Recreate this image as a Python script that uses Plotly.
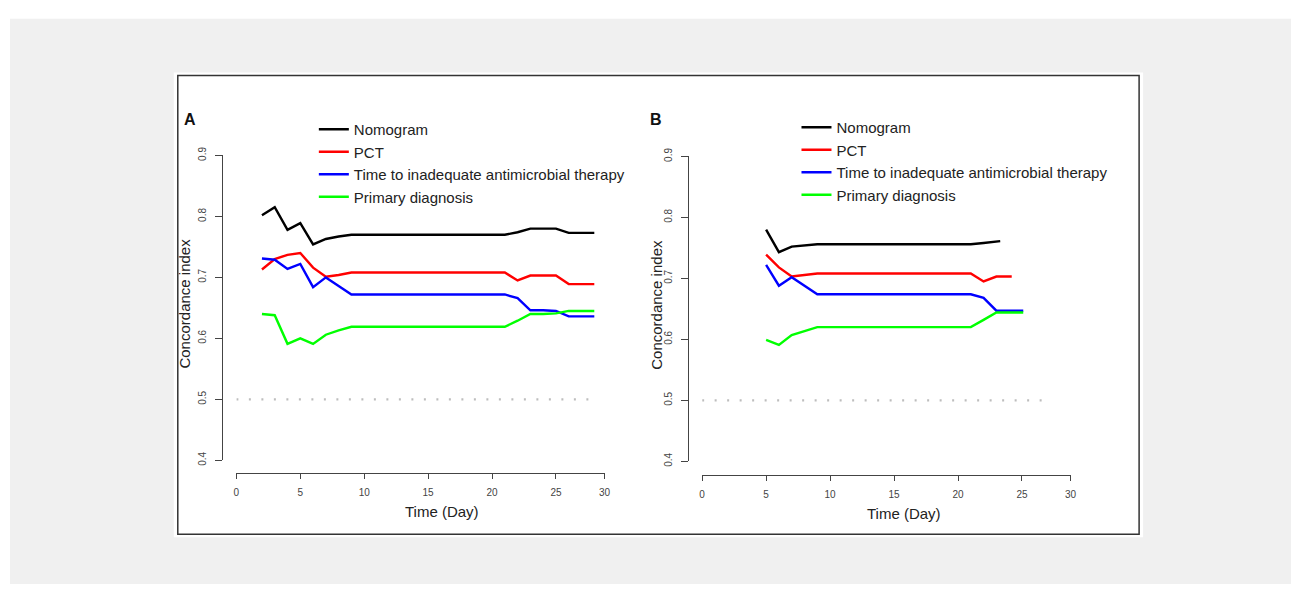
import plotly.graph_objects as go

# ---------------- data ----------------
series_names = ["Nomogram", "PCT", "Time to inadequate antimicrobial therapy", "Primary diagnosis"]
series_colors = ["#000000", "#ff0000", "#0000ff", "#00ff00"]

# Panel A (days 2..28)
days_a = [2, 3, 4, 5, 6, 7, 8, 9, 10, 11, 12, 13, 14, 15, 16, 17, 18, 19, 20, 21, 22, 23, 24, 25, 26, 27, 28]
nomogram_a = [0.802, 0.815, 0.778, 0.789, 0.754, 0.763, 0.767, 0.770, 0.770, 0.770, 0.770, 0.770, 0.770, 0.770,
              0.770, 0.770, 0.770, 0.770, 0.770, 0.770, 0.774, 0.780, 0.780, 0.780, 0.773, 0.773, 0.773]
pct_a = [0.713, 0.730, 0.737, 0.740, 0.716, 0.701, 0.704, 0.708, 0.708, 0.708, 0.708, 0.708, 0.708, 0.708,
         0.708, 0.708, 0.708, 0.708, 0.708, 0.708, 0.695, 0.703, 0.703, 0.703, 0.689, 0.689, 0.689]
tia_a = [0.731, 0.729, 0.714, 0.722, 0.684, 0.700, 0.686, 0.672, 0.672, 0.672, 0.672, 0.672, 0.672, 0.672,
         0.672, 0.672, 0.672, 0.672, 0.672, 0.672, 0.666, 0.646, 0.646, 0.645, 0.636, 0.636, 0.636]
primary_a = [0.640, 0.638, 0.591, 0.600, 0.591, 0.606, 0.613, 0.619, 0.619, 0.619, 0.619, 0.619, 0.619, 0.619,
             0.619, 0.619, 0.619, 0.619, 0.619, 0.619, 0.629, 0.640, 0.640, 0.641, 0.645, 0.645, 0.645]

# Panel B
days_b_nomogram = [5, 6, 7, 8, 9, 10, 11, 12, 13, 14, 15, 16, 17, 18, 19, 20, 21, 22, 23.3]
nomogram_b = [0.780, 0.743, 0.752, 0.754, 0.756, 0.756, 0.756, 0.756, 0.756, 0.756, 0.756, 0.756, 0.756,
              0.756, 0.756, 0.756, 0.756, 0.758, 0.761]
days_b_pct = [5, 6, 7, 8, 9, 10, 11, 12, 13, 14, 15, 16, 17, 18, 19, 20, 21, 22, 23, 24.2]
pct_b = [0.739, 0.718, 0.703, 0.706, 0.708, 0.708, 0.708, 0.708, 0.708, 0.708, 0.708, 0.708, 0.708,
         0.708, 0.708, 0.708, 0.708, 0.695, 0.703, 0.703]
days_b_tia = [5, 6, 7, 8, 9, 10, 11, 12, 13, 14, 15, 16, 17, 18, 19, 20, 21, 22, 23, 25.1]
tia_b = [0.722, 0.688, 0.702, 0.688, 0.674, 0.674, 0.674, 0.674, 0.674, 0.674, 0.674, 0.674, 0.674,
         0.674, 0.674, 0.674, 0.674, 0.668, 0.647, 0.647]
days_b_primary = [5, 6, 7, 8, 9, 10, 11, 12, 13, 14, 15, 16, 17, 18, 19, 20, 21, 22, 23, 25.1]
primary_b = [0.599, 0.591, 0.607, 0.613, 0.620, 0.620, 0.620, 0.620, 0.620, 0.620, 0.620, 0.620, 0.620,
             0.620, 0.620, 0.620, 0.620, 0.632, 0.644, 0.644]

# Reference line (C-index = 0.5)
ref_x_a = [0, 28.2]
ref_x_b = [0, 27.3]
ref_y = [0.5, 0.5]

# Ticks
x_tickvals = [0, 5, 10, 15, 20, 25, 28.8]
x_ticktext = ["0", "5", "10", "15", "20", "25", "30"]
y_tickvals = [0.4, 0.5, 0.6, 0.7, 0.8, 0.9]
y_ticktext = ["0.4", "0.5", "0.6", "0.7", "0.8", "0.9"]

panel_labels = ["A", "B"]
x_title = "Time (Day)"
y_title = "Concordance index"

# ---------------- figure ----------------
W, H = 1304, 590
FONT = "Liberation Sans, Arial, Helvetica, sans-serif"


def px(x):
    return x / W


def py(y):
    return 1 - y / H


fig = go.Figure()

panel_a = [(days_a, nomogram_a), (days_a, pct_a), (days_a, tia_a), (days_a, primary_a)]
panel_b = [(days_b_nomogram, nomogram_b), (days_b_pct, pct_b), (days_b_tia, tia_b), (days_b_primary, primary_b)]

# reference dotted lines
fig.add_trace(go.Scatter(x=ref_x_a, y=ref_y, mode="lines", xaxis="x", yaxis="y", showlegend=False,
                         line=dict(color="#bdbdbd", width=2.2, dash="2px,10.5px"), hoverinfo="skip"))
fig.add_trace(go.Scatter(x=ref_x_b, y=ref_y, mode="lines", xaxis="x2", yaxis="y2", showlegend=False,
                         line=dict(color="#bdbdbd", width=2.2, dash="2px,10.5px"), hoverinfo="skip"))

for i, (xs, ys) in enumerate(panel_a):
    fig.add_trace(go.Scatter(x=xs, y=ys, mode="lines", name=series_names[i], xaxis="x", yaxis="y",
                             legend="legend", legendgroup="a%d" % i,
                             line=dict(color=series_colors[i], width=2.4)))
for i, (xs, ys) in enumerate(panel_b):
    fig.add_trace(go.Scatter(x=xs, y=ys, mode="lines", name=series_names[i], xaxis="x2", yaxis="y2",
                             legend="legend2", legendgroup="b%d" % i,
                             line=dict(color=series_colors[i], width=2.4)))

axis_common = dict(showline=True, linecolor="#444444", linewidth=1.3, ticks="outside", tickcolor="#444444",
                   tickwidth=1.3, showgrid=False, zeroline=False, tickfont=dict(family=FONT, size=10, color="#444444"))

xa_common = dict(axis_common, range=[0, 28.8], tickmode="array", tickvals=x_tickvals, ticktext=x_ticktext,
                 ticklen=5, anchor="free", ticklabelstandoff=5)
ya_common = dict(axis_common, range=[0.4, 0.9], tickmode="array", tickvals=y_tickvals, ticktext=y_ticktext,
                 ticklen=7, tickangle=-90, anchor="free", ticklabelstandoff=5)

title_font = dict(family=FONT, size=15, color="#222222")

fig.update_layout(
    width=W, height=H,
    margin=dict(l=0, r=0, t=0, b=0),
    paper_bgcolor="white",
    plot_bgcolor="rgba(0,0,0,0)",
    font=dict(family=FONT, color="#222222"),
    xaxis=dict(xa_common, domain=[px(235), px(605.7)], position=py(475)),
    yaxis=dict(ya_common, domain=[py(462.3), py(150)], position=px(221)),
    xaxis2=dict(xa_common, domain=[px(704), px(1075)], position=py(477.3)),
    yaxis2=dict(ya_common, domain=[py(463.3), py(151)], position=px(690)),
    legend=dict(x=px(313), y=py(106.5), xanchor="left", yanchor="top", bgcolor="rgba(0,0,0,0)",
                font=dict(family=FONT, size=15, color="#222222"), tracegroupgap=0, borderwidth=0),
    legend2=dict(x=px(799), y=py(104.5), xanchor="left", yanchor="top", bgcolor="rgba(0,0,0,0)",
                 font=dict(family=FONT, size=15, color="#222222"), tracegroupgap=0, borderwidth=0),
    showlegend=True,
    shapes=[
        dict(type="rect", xref="paper", yref="paper", x0=px(7), x1=px(1297), y0=py(589), y1=py(10),
             fillcolor="#f0f0f0", line=dict(width=0), layer="below"),
        dict(type="rect", xref="paper", yref="paper", x0=px(172), x1=px(1148), y0=py(541), y1=py(65),
             fillcolor="white", line=dict(width=0), layer="below"),
        dict(type="rect", xref="paper", yref="paper", x0=px(176), x1=px(1144), y0=py(538), y1=py(68),
             fillcolor="rgba(0,0,0,0)", line=dict(color="#333333", width=1.5), layer="below"),
    ],
    annotations=[
        dict(text="<b>%s</b>" % panel_labels[0], xref="paper", yref="paper", x=px(188), y=py(113),
             xanchor="center", yanchor="middle", showarrow=False, font=dict(family=FONT, size=16, color="#111111")),
        dict(text="<b>%s</b>" % panel_labels[1], xref="paper", yref="paper", x=px(658), y=py(113),
             xanchor="center", yanchor="middle", showarrow=False, font=dict(family=FONT, size=16, color="#111111")),
        dict(text=x_title, xref="paper", yref="paper", x=px(442), y=py(515),
             xanchor="center", yanchor="middle", showarrow=False, font=title_font),
        dict(text=x_title, xref="paper", yref="paper", x=px(907), y=py(517),
             xanchor="center", yanchor="middle", showarrow=False, font=title_font),
        dict(text=y_title, xref="paper", yref="paper", x=px(183), y=py(302), textangle=-90,
             xanchor="center", yanchor="middle", showarrow=False, font=title_font),
        dict(text=y_title, xref="paper", yref="paper", x=px(658), y=py(302.5), textangle=-90,
             xanchor="center", yanchor="middle", showarrow=False, font=title_font),
    ],
)

fig.write_html(
    "out.html",
    config={"displayModeBar": False},
    post_script="document.body.style.margin='0';document.body.style.overflow='hidden';",
)
